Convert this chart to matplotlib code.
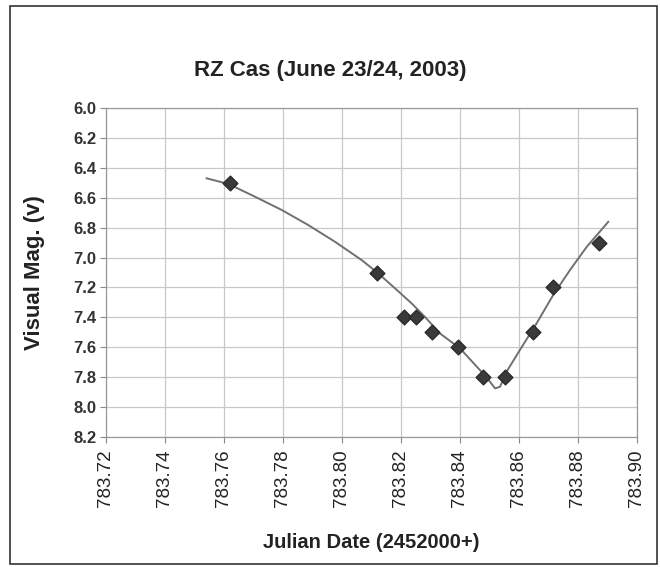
import numpy as np
import matplotlib
matplotlib.use("Agg")
import matplotlib.pyplot as plt
from matplotlib.patches import Rectangle

plt.rcParams['font.family'] = ['Liberation Sans', 'DejaVu Sans']

# observed points (JD - 2452000, visual magnitude)
obs_jd = [783.762, 783.812, 783.821, 783.825, 783.8305, 783.8394,
          783.8477, 783.8553, 783.8648, 783.8716, 783.8871]
obs_mag = [6.5, 7.1, 7.4, 7.4, 7.5, 7.6, 7.8, 7.8, 7.5, 7.2, 6.9]

# fitted light curve, vertices
fit_jd = [783.7541, 783.7615, 783.7705, 783.7796, 783.7886, 783.7976,
          783.8067, 783.8123, 783.818, 783.8236, 783.8281, 783.8332,
          783.840, 783.8468, 783.8502, 783.8519, 783.8536, 783.8558,
          783.8603, 783.866, 783.8716, 783.8773, 783.883, 783.8903]
fit_mag = [6.470, 6.508, 6.593, 6.682, 6.783, 6.894,
           7.017, 7.106, 7.206, 7.306, 7.396, 7.507,
           7.607, 7.753, 7.831, 7.875, 7.864, 7.764,
           7.619, 7.440, 7.251, 7.084, 6.928, 6.761]

x_ticks = [783.72, 783.74, 783.76, 783.78, 783.80, 783.82, 783.84,
           783.86, 783.88, 783.90]
y_ticks = [6.0, 6.2, 6.4, 6.6, 6.8, 7.0, 7.2, 7.4, 7.6, 7.8, 8.0, 8.2]

fig = plt.figure(figsize=(6.6, 5.67), dpi=100)
ax = fig.add_axes([0.1606, 0.2293, 0.8044, 0.5802])

ax.plot(fit_jd, fit_mag, color='#707070', lw=1.4, zorder=2)
ax.scatter(obs_jd, obs_mag, marker='D', s=56, color='#3a3a3a',
           edgecolors='#2a2a2a', zorder=3)

ax.set_xlim(783.72, 783.90)
ax.set_ylim(8.2, 6.0)
ax.set_xticks(x_ticks)
ax.set_yticks(y_ticks)
ax.set_xticklabels(['%.2f' % v for v in x_ticks], rotation=90, fontsize=13.5,
                   color='#222222')
ax.set_yticklabels(['%.1f' % v for v in y_ticks], fontsize=12,
                   fontweight='bold', color='#333333')
ax.tick_params(direction='out', length=4, color='#888888', pad=3)
ax.tick_params(axis='x', pad=5)
ax.grid(True, color='#c8c8c8', lw=0.9)
ax.set_axisbelow(True)
for s in ax.spines.values():
    s.set_color('#999999')
    s.set_linewidth(0.9)

ax.set_xlabel('Julian Date (2452000+)', fontsize=14.5, fontweight='bold',
              color='#222222', va='center')
ax.xaxis.set_label_coords(0.5, -0.322)
ax.set_ylabel('Visual Mag. (v)', fontsize=16, fontweight='bold',
              color='#222222', va='center')
ax.yaxis.set_label_coords(-0.134, 0.5)
fig.text(0.5, 0.876, 'RZ Cas (June 23/24, 2003)', ha='center', va='center',
         fontsize=16, fontweight='bold', color='#222222')

# outer chart frame
fig.patches.append(Rectangle((0.015, 0.005), 0.98, 0.985, transform=fig.transFigure,
                             fill=False, edgecolor='#333333', lw=1.2))

fig.savefig('out.png', dpi=100)
